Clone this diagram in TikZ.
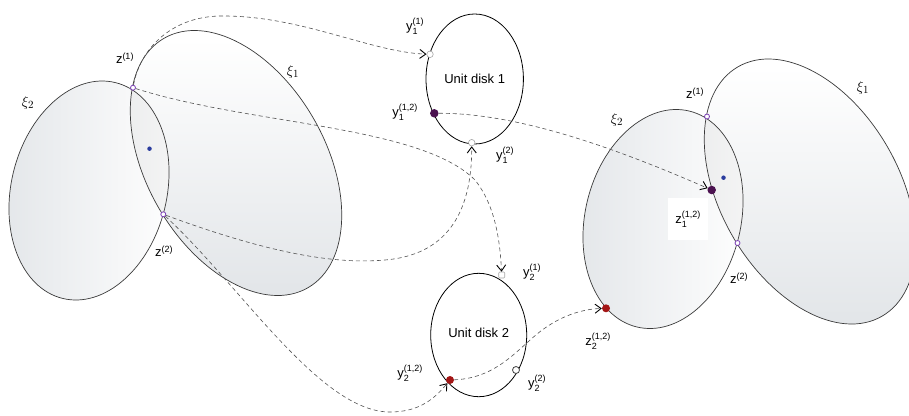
\documentclass[tikz,border=0pt]{standalone}
\usepackage{fontspec}
\setmainfont{Liberation Sans}
\usetikzlibrary{arrows.meta,shapes.geometric}
\definecolor{edge}{HTML}{3A3A3A}
\definecolor{ptpurple}{HTML}{7B3FB5}
\definecolor{ptblue}{HTML}{2A3C9E}
\definecolor{darkpurple}{HTML}{4B1250}
\definecolor{ptred}{HTML}{A31616}
\definecolor{shadeg}{HTML}{E3E6E9}
\newcommand\lbl[3]{#1\ensuremath{_{\mbox{\fontsize{9}{9}\selectfont #2}}^{\mbox{\fontsize{9}{9}\selectfont #3}}}}
\newcommand\zlbl[2]{#1\ensuremath{^{\mbox{\fontsize{9}{9}\selectfont #2}}}}
\newcommand\figpair{%
  \shade[xione, bottom color=shadeg, top color=white] (236,163) ellipse [x radius=144, y radius=89.4];
  \shade[xitwo, left color=shadeg, right color=white] (89,190.5) ellipse [x radius=77.8, y radius=111.1];
  \begin{scope}
    \clip[xione] (236,163) ellipse [x radius=144, y radius=89.4];
    \fill[xitwo, black, opacity=0.04] (89,190.5) ellipse [x radius=77.8, y radius=111.1];
  \end{scope}
  \draw[blob, xione] (236,163) ellipse [x radius=144, y radius=89.4];
  \draw[blob, xitwo] (89,190.5) ellipse [x radius=77.8, y radius=111.1];
}
\begin{document}
\begin{tikzpicture}[x=1pt, y=-1pt, font=\fontsize{13}{15}\selectfont,
  xione/.style={rotate around={-60:(236,163)}},
  xitwo/.style={rotate around={-13.7:(89,190.5)}},
  blob/.style={draw=edge, line width=0.7pt},
  disk/.style={draw=black, line width=0.8pt, ellipse, inner sep=0pt},
  conn/.style={draw=black!68, dash pattern=on 4pt off 3pt, line width=0.6pt},
  arr/.style={conn, -{Straight Barb[length=6pt, width=9pt, line width=0.9pt, color=black]}},
  openpt/.style={circle, draw=ptpurple, fill=white, line width=0.8pt, inner sep=0pt, minimum size=5pt},
  cdot/.style={circle, fill=ptblue, inner sep=0pt, minimum size=4.5pt},
  whitept/.style={circle, draw=black!35, fill=white, line width=0.6pt, inner sep=0pt, minimum size=6.5pt},
  sqpt/.style={rectangle, rounded corners=1pt, draw=black!35, fill=white, line width=0.6pt, inner sep=0pt, minimum size=6pt},
  opendk/.style={circle, draw=black!75, fill=white, line width=0.8pt, inner sep=0pt, minimum size=7pt},
  purplept/.style={circle, fill=darkpurple, inner sep=0pt, minimum size=8.5pt},
  redpt/.style={circle, fill=ptred, inner sep=0pt, minimum size=8pt},
  xilabel/.style={font=\fontsize{15}{17}\selectfont, inner sep=0pt},
  txt/.style={inner sep=0pt}]
\useasboundingbox (0,0) rectangle (909,415);
\clip (0,0) rectangle (909,415);

% left figure
\figpair
% right figure
\begin{scope}[shift={(574,28.5)}]
\figpair
\end{scope}

% unit disks
\node[disk, minimum width=97.4pt, minimum height=130pt] (d1) at (474.7,79) {Unit disk 1};
\node[disk, minimum width=96pt, minimum height=123.4pt] (d2) at (478.7,335) {\raisebox{5pt}{Unit disk 2}};

% points
\node[openpt] (z1L) at (133,87.7) {};
\node[openpt] (z2L) at (163.3,214.3) {};
\node[cdot] (cL) at (149.5,148.7) {};
\node[openpt] (z1R) at (707,116.5) {};
\node[openpt] (z2R) at (737.5,243) {};
\node[cdot] (cR) at (723.5,177.7) {};

\node[whitept] (y11) at (430,54.3) {};
\node[purplept] (y112) at (434.3,113.3) {};
\node[whitept] (y12) at (471.7,142.7) {};
\node[sqpt] (y21) at (501.7,275) {};
\node[redpt] (y212) at (450,380) {};
\node[opendk] (y22) at (516,370) {};

\node[purplept] (z112) at (711.7,190) {};
\node[redpt] (z212) at (606,308.3) {};

% labels
\node[xilabel] (xi2L) at (28,103) {$\xi_2$};
\node[xilabel] (xi1L) at (293,72) {$\xi_1$};
\node[txt] (lz1L) at (125,58) {\zlbl{z}{(1)}};
\node[txt] (lz2L) at (164,251) {\zlbl{z}{(2)}};
\node[xilabel] (xi2R) at (617,120) {$\xi_2$};
\node[xilabel] (xi1R) at (863,88) {$\xi_1$};
\node[txt] (lz1R) at (695,93) {\zlbl{z}{(1)}};
\node[txt] (lz2R) at (739,278) {\zlbl{z}{(2)}};
\node[txt, fill=white, minimum width=40pt, minimum height=42pt] (lz112) at (688,219) {\lbl{z}{1}{(1,2)}};
\node[txt] (lz212) at (598,341) {\lbl{z}{2}{(1,2)}};

\node[txt] (ly11) at (415,26) {\lbl{y}{1}{(1)}};
\node[txt] (ly112) at (405,112) {\lbl{y}{1}{(1,2)}};
\node[txt] (ly12) at (505,155) {\lbl{y}{1}{(2)}};
\node[txt] (ly21) at (532,272) {\lbl{y}{2}{(1)}};
\node[txt] (ly212) at (410,373) {\lbl{y}{2}{(1,2)}};
\node[txt] (ly22) at (537,383) {\lbl{y}{2}{(2)}};

% connectors
\draw[arr] (z1L) .. controls (140,50) and (170,17) .. (220,16) .. controls (300,15) and (370,52) .. (y11);
\draw[arr] (z1L) .. controls (250,125) and (420,125) .. (475,180) .. controls (495,205) and (500,240) .. (y21);
\draw[arr] (z2L) .. controls (260,250) and (330,265) .. (385,260) .. controls (445,255) and (472,215) .. (y12);
\draw[arr] (z2L) .. controls (240,285) and (320,412) .. (390,412) .. controls (420,412) and (435,398) .. (y212);
\draw[arr] (y112) .. controls (520,113) and (620,150) .. (z112);
\draw[arr] (y212) .. controls (500,378) and (520,345) .. (545,328) .. controls (565,314) and (585,309) .. (z212);
\end{tikzpicture}
\end{document}
